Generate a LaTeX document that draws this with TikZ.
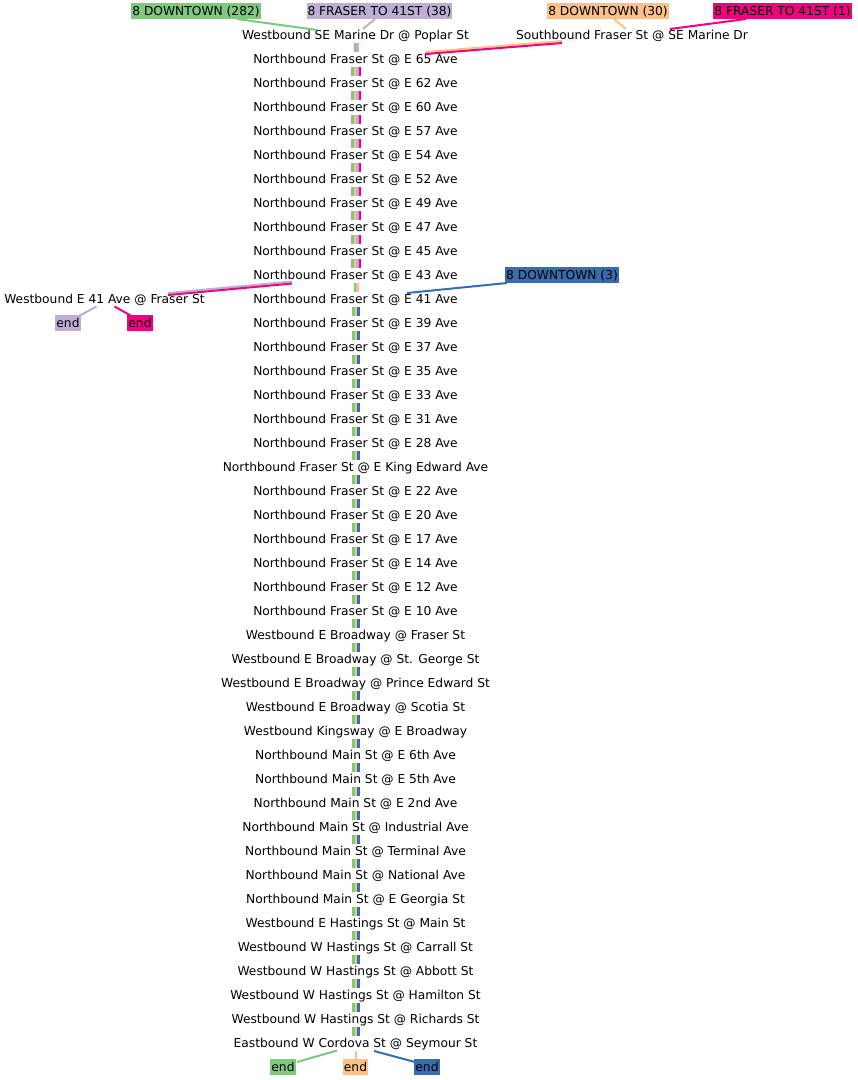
\documentclass[tikz,border=0pt]{standalone}
\usepackage{fontspec}
\setmainfont{DejaVu Sans}
\usetikzlibrary{calc}
\definecolor{acgreen}{HTML}{7FC97F}
\definecolor{acpurple}{HTML}{BEAED4}
\definecolor{acorange}{HTML}{FDC086}
\definecolor{acpink}{HTML}{F0027F}
\definecolor{acblue}{HTML}{386CB0}
\tikzset{
  stop/.style={font=\fontsize{12.25}{14}\selectfont, inner sep=1pt, text height=11.3pt, text depth=2.9pt, text=black},
  lbl/.style={stop, fill=#1},
  stripe/.style={line width=2.5pt, line cap=butt},
  link/.style={line width=2pt, line cap=butt},
}
\begin{document}
\begin{tikzpicture}[x=1pt,y=-1pt]
\useasboundingbox (0,0) rectangle (858,1080);
% stations on the main line
\foreach \i/\t in {
 1/{Westbound SE Marine Dr @ Poplar St},
 2/{Northbound Fraser St @ E 65 Ave},
 3/{Northbound Fraser St @ E 62 Ave},
 4/{Northbound Fraser St @ E 60 Ave},
 5/{Northbound Fraser St @ E 57 Ave},
 6/{Northbound Fraser St @ E 54 Ave},
 7/{Northbound Fraser St @ E 52 Ave},
 8/{Northbound Fraser St @ E 49 Ave},
 9/{Northbound Fraser St @ E 47 Ave},
 10/{Northbound Fraser St @ E 45 Ave},
 11/{Northbound Fraser St @ E 43 Ave},
 12/{Northbound Fraser St @ E 41 Ave},
 13/{Northbound Fraser St @ E 39 Ave},
 14/{Northbound Fraser St @ E 37 Ave},
 15/{Northbound Fraser St @ E 35 Ave},
 16/{Northbound Fraser St @ E 33 Ave},
 17/{Northbound Fraser St @ E 31 Ave},
 18/{Northbound Fraser St @ E 28 Ave},
 19/{Northbound Fraser St @ E King Edward Ave},
 20/{Northbound Fraser St @ E 22 Ave},
 21/{Northbound Fraser St @ E 20 Ave},
 22/{Northbound Fraser St @ E 17 Ave},
 23/{Northbound Fraser St @ E 14 Ave},
 24/{Northbound Fraser St @ E 12 Ave},
 25/{Northbound Fraser St @ E 10 Ave},
 26/{Westbound E Broadway @ Fraser St},
 27/{Westbound E Broadway @ St. George St},
 28/{Westbound E Broadway @ Prince Edward St},
 29/{Westbound E Broadway @ Scotia St},
 30/{Westbound Kingsway @ E Broadway},
 31/{Northbound Main St @ E 6th Ave},
 32/{Northbound Main St @ E 5th Ave},
 33/{Northbound Main St @ E 2nd Ave},
 34/{Northbound Main St @ Industrial Ave},
 35/{Northbound Main St @ Terminal Ave},
 36/{Northbound Main St @ National Ave},
 37/{Northbound Main St @ E Georgia St},
 38/{Westbound E Hastings St @ Main St},
 39/{Westbound W Hastings St @ Carrall St},
 40/{Westbound W Hastings St @ Abbott St},
 41/{Westbound W Hastings St @ Hamilton St},
 42/{Westbound W Hastings St @ Richards St},
 43/{Eastbound W Cordova St @ Seymour St}}
 \node[stop] (s\i) at (355.5,{35+24*(\i-1)}) {\t};

\node[stop] (sb) at (632,35) {Southbound Fraser St @ SE Marine Dr};
\node[stop] (w41) at (104.5,299) {Westbound E 41 Ave @ Fraser St};

% route labels
\node[lbl=acgreen] (g282) at (196,11) {8 DOWNTOWN (282)};
\node[lbl=acpurple] (p38) at (379.5,11) {8 FRASER TO 41ST (38)};
\node[lbl=acorange] (o30) at (608,11) {8 DOWNTOWN (30)};
\node[lbl=acpink] (k1) at (782.5,11) {8 FRASER TO 41ST (1)};
\node[lbl=acblue] (b3) at (562,275) {8 DOWNTOWN (3)};
\node[lbl=acpurple] (ep) at (68,323) {end};
\node[lbl=acpink] (ek) at (140,323) {end};
\node[lbl=acgreen] (eg) at (283,1067) {end};
\node[lbl=acorange] (eo) at (355.5,1067) {end};
\node[lbl=acblue] (eb) at (427,1067) {end};

% stripes between consecutive stops
\foreach \c/\d in {acgreen/-1.25, acpurple/1.25}
  \draw[stripe,\c] ($(s1.center)+(0.5+\d,8)$) -- ($(s2.center)+(0.5+\d,-7)$);
\foreach \i [evaluate=\i as \j using int(\i+1)] in {2,...,10}
  \foreach \c/\d in {acgreen/-3.75, acorange/-1.25, acpurple/1.25, acpink/3.75}
    \draw[stripe,\c] ($(s\i.center)+(0.5+\d,8)$) -- ($(s\j.center)+(0.5+\d,-7)$);
\foreach \c/\d in {acgreen/-1.25, acorange/1.25}
  \draw[stripe,\c] ($(s11.center)+(0.5+\d,8)$) -- ($(s12.center)+(0.5+\d,-7)$);
\foreach \i [evaluate=\i as \j using int(\i+1)] in {12,...,42}
  \foreach \c/\d in {acgreen/-2.5, acorange/0, acblue/2.5}
    \draw[stripe,\c] ($(s\i.center)+(0.5+\d,8)$) -- ($(s\j.center)+(0.5+\d,-7)$);

% connectors
\draw[link,acgreen] ($(g282.center)+(41,8)$) -- ($(s1.center)+(-38.5,-5)$);
\draw[link,acpurple] ($(p38.center)+(-4.5,8)$) -- ($(s1.center)+(7.5,-6)$);
\draw[link,acorange] ($(o30.center)+(6,8)$) -- ($(sb.center)+(-6,-6)$);
\draw[link,acpink] ($(k1.center)+(-36.5,8)$) -- ($(sb.center)+(38,-6)$);
\draw[link,acorange] ($(sb.center)+(-70,6)$) -- ($(s2.center)+(69.5,-7)$);
\draw[link,acpink] ($(sb.center)+(-70,8)$) -- ($(s2.center)+(69.5,-5)$);
\draw[link,acpurple] ($(s11.center)+(-63.5,6.5)$) -- ($(w41.center)+(63.5,-6)$);
\draw[link,acpink] ($(s11.center)+(-63.5,8.5)$) -- ($(w41.center)+(63.5,-4)$);
\draw[link,acblue] ($(b3.center)+(-55,8)$) -- ($(s12.center)+(51.5,-6)$);
\draw[link,acpurple] ($(w41.center)+(-8,7.5)$) -- ($(ep.center)+(11,-7)$);
\draw[link,acpink] ($(w41.center)+(10,7.5)$) -- ($(ek.center)+(-8.5,-7)$);
\draw[link,acgreen] ($(s43.center)+(-18.5,7.5)$) -- ($(eg.center)+(14,-5)$);
\draw[link,acorange] ($(s43.center)+(0,8)$) -- ($(eo.center)+(0,-8)$);
\draw[link,acblue] ($(s43.center)+(18.5,8)$) -- ($(eb.center)+(-12,-5)$);
\end{tikzpicture}
\end{document}
